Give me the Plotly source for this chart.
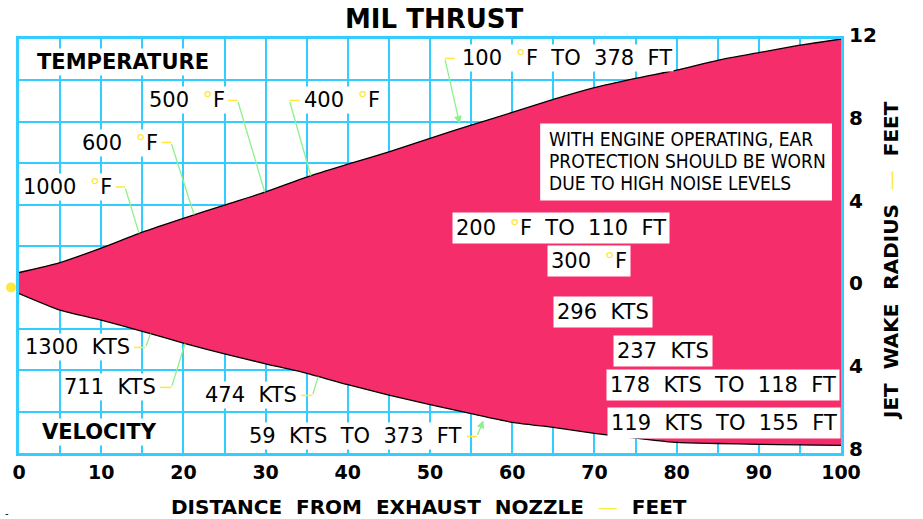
import numpy as np
import plotly.graph_objects as go

# Jet wake envelope (feet) versus distance from the exhaust nozzle (feet)
distance = [0, 5, 10, 15, 20, 25, 30, 35, 40, 45, 50, 55, 60, 65, 70, 75, 80, 85, 90, 95, 100]
wake_upper = [0.72, 1.2, 1.9, 2.67, 3.34, 3.98, 4.61, 5.33, 5.95, 6.55, 7.2, 7.84, 8.45, 9.08,
              9.65, 10.1, 10.5, 10.97, 11.34, 11.7, 12.0]
wake_lower = [-0.3, -1.1, -1.58, -2.12, -2.69, -3.21, -3.69, -4.15, -4.7, -5.2, -5.66, -6.1,
              -6.52, -6.76, -7.05, -7.28, -7.49, -7.54, -7.58, -7.61, -7.63]

# Temperature contours meeting the upper wake edge
temp_values = ["1000", "600", "500", "400"]
temp_distance = [14.6, 21.3, 29.9, 35.5]
# Velocity contours meeting the lower wake edge
velocity_values = ["1300", "711", "474"]
velocity_distance = [16.0, 20.2, 36.4]

# Outer limits of the wake
temp_limit = ("100", "378", 53.6)
velocity_limit = ("59", "373", 56.5)

# Values inside the wake
inner_labels = [("200", "°F", "110"), ("300", "°F", None), ("296", "KTS", None),
                ("237", "KTS", None), ("178", "KTS", "118"), ("119", "KTS", "155")]

warning_lines = ["WITH ENGINE OPERATING, EAR", "PROTECTION SHOULD BE WORN",
                 "DUE TO HIGH NOISE LEVELS"]

x_ticks = [0, 10, 20, 30, 40, 50, 60, 70, 80, 90, 100]
y_ticks = [12, 8, 4, 0, -4, -8]
y_tick_text = ["12", "8", "4", "0", "4", "8"]
y_range = [-8, 12]

PINK = "#F62D6B"
CYAN = "#33CDFF"
YELLOW = "#FFE83A"
GREEN = "#8EF08A"
FONT = "DejaVu Sans"
CONDENSED = "DejaVu Sans Condensed, DejaVu Sans, sans-serif"
SP = "\u00a0\u00a0"
DEG = f'<span style="color:{YELLOW}">°</span>'
DASH = f'<span style="color:{YELLOW};font-weight:normal">—</span>'


def upper_at(d):
    return float(np.interp(d, distance, wake_upper))


def lower_at(d):
    return float(np.interp(d, distance, wake_lower))


fig = go.Figure()
fig.add_trace(go.Scatter(x=distance, y=wake_lower, mode="lines",
                         line=dict(color="black", width=1.3, shape="spline", smoothing=0.6),
                         hoverinfo="skip", showlegend=False))
fig.add_trace(go.Scatter(x=distance, y=wake_upper, mode="lines", fill="tonexty",
                         fillcolor=PINK,
                         line=dict(color="black", width=1.3, shape="spline", smoothing=0.6),
                         hoverinfo="skip", showlegend=False))

annotations = []
shapes = []

# nozzle marker just left of the plot frame, on the wake centreline
shapes.append(dict(type="circle", xref="paper", yref="paper",
                   xsizemode="pixel", ysizemode="pixel",
                   xanchor=-0.0097, yanchor=(0 - y_range[0]) / (y_range[1] - y_range[0]),
                   x0=-5, x1=5, y0=-5, y1=5,
                   fillcolor=YELLOW, line=dict(width=0)))

label_font = dict(family=FONT, size=21, color="black")


def text_label(text, x, y, xanchor, pad=1):
    annotations.append(dict(x=x, y=y, xref="x", yref="y", text=text, showarrow=False,
                            xanchor=xanchor, yanchor="middle", font=label_font,
                            bgcolor="white", borderpad=pad))


def leader(x0, x1, y, tip_x, tip_y, from_left=False, head=False):
    # short yellow tick next to the label, then green line to the wake edge
    shapes.append(dict(type="line", xref="x", yref="y", x0=x0, x1=x1, y0=y, y1=y,
                       line=dict(color=YELLOW, width=1.5)))
    sx = x0 if from_left else x1
    annotations.append(dict(x=tip_x, y=tip_y, ax=sx, ay=y, xref="x", yref="y",
                            axref="x", ayref="y", text="", showarrow=True,
                            arrowhead=2 if head else 0, arrowsize=1.2,
                            arrowwidth=1.3, arrowcolor=GREEN, standoff=0))


# temperature labels along the upper edge: (label right edge, label height)
temp_pos = [(11.6, 4.85), (17.2, 7.0), (25.3, 9.03)]
for (val, d, (lx, ly)) in zip(temp_values[:3], temp_distance[:3], temp_pos):
    text_label(f"{val}{SP}{DEG}F", lx, ly, "right")
    leader(lx + 0.15, lx + 1.3, ly, d, upper_at(d))
# 400 F has its leader on the left
text_label(f"{temp_values[3]}{SP}{DEG}F", 34.4, 9.03, "left")
leader(32.9, 34.1, 9.03, temp_distance[3], upper_at(temp_distance[3]), from_left=True)

# outer temperature limit
t_val, t_ft, t_d = temp_limit
text_label(f"{t_val}{SP}{DEG}F{SP}TO{SP}{t_ft}{SP}FT", 53.6, 11.06, "left")
leader(51.8, 53.0, 11.06, t_d, upper_at(t_d) + 0.25, from_left=True, head=True)

# velocity labels along the lower edge
vel_pos = [(13.8, -2.9), (16.95, -4.83), (34.1, -5.22)]
for (val, d, (lx, ly)) in zip(velocity_values, velocity_distance, vel_pos):
    text_label(f"{val}{SP}KTS", lx, ly, "right")
    leader(lx + 0.2, lx + 1.6, ly, d, lower_at(d))

v_val, v_ft, v_d = velocity_limit
text_label(f"{v_val}{SP}KTS{SP}TO{SP}{v_ft}{SP}FT", 54.1, -7.2, "right")
leader(54.5, 55.7, -7.2, v_d, lower_at(v_d) - 0.2, head=True)

# labels inside the wake
inner_pos = [(65.9, 2.85), (69.4, 1.26), (71.1, -1.21), (78.3, -3.09), (85.65, -4.73),
             (85.77, -6.57)]
for (val, unit, ft), (cx, cy) in zip(inner_labels, inner_pos):
    u = f"{DEG}F" if unit == "°F" else unit
    txt = f"{val}{SP}{u}"
    if ft:
        txt += f"{SP}TO{SP}{ft}{SP}FT"
    text_label(txt, cx, cy, "center", pad=3)

# noise warning: white panel with three lines of condensed text
shapes.append(dict(type="rect", xref="x", yref="y", x0=63.4, x1=98.9, y0=4.2, y1=7.92,
                   fillcolor="white", line=dict(width=0), layer="above"))
for line, ly in zip(warning_lines, [7.15, 6.09, 5.02]):
    annotations.append(dict(x=64.2, y=ly, xref="x", yref="y", text=line,
                            showarrow=False, xanchor="left", yanchor="middle",
                            font=dict(family=CONDENSED, size=19, color="black")))

# section headings
head_font = dict(family=FONT, size=21, color="black")
annotations.append(dict(x=12.6, y=10.9, xref="x", yref="y", text="<b>TEMPERATURE</b>",
                        showarrow=False, font=head_font, bgcolor="white", borderpad=1))
annotations.append(dict(x=9.75, y=-7.0, xref="x", yref="y", text="<b>VELOCITY</b>",
                        showarrow=False, font=head_font, bgcolor="white", borderpad=1))

# title and axis titles
axis_title_font = dict(family=FONT, size=20, color="black")
annotations.append(dict(x=0.505, y=1.048, xref="paper", yref="paper",
                        xanchor="center", yanchor="middle",
                        text="<b>MIL THRUST</b>", showarrow=False,
                        font=dict(family=FONT, size=26, color="black")))
annotations.append(dict(x=0.499, y=-0.130, xref="paper", yref="paper",
                        xanchor="center", yanchor="middle",
                        text=f"<b>DISTANCE{SP}FROM{SP}EXHAUST{SP}NOZZLE{SP}{DASH}{SP}FEET</b>",
                        showarrow=False, font=axis_title_font))
annotations.append(dict(x=1.061, y=0.464, xref="paper", yref="paper", textangle=-90,
                        xanchor="center", yanchor="middle",
                        text=f"<b>JET{SP}WAKE{SP}RADIUS{SP}{DASH}{SP}FEET</b>",
                        showarrow=False, font=axis_title_font))
annotations.append(dict(x=-0.0145, y=-0.147, xref="paper", yref="paper", text="-",
                        xanchor="center", yanchor="middle",
                        showarrow=False, font=dict(family=FONT, size=10, color="black")))

fig.update_layout(
    width=923, height=519,
    margin=dict(l=15, r=82, t=39, b=66),
    paper_bgcolor="white", plot_bgcolor="white",
    showlegend=False,
    annotations=annotations, shapes=shapes,
    xaxis=dict(range=[0, 100], tickvals=x_ticks, showgrid=True, gridcolor=CYAN, gridwidth=2,
               minor=dict(dtick=5, showgrid=True, gridcolor=CYAN, gridwidth=2),
               showline=True, linecolor=CYAN, linewidth=3, mirror=True, ticks="",
               zeroline=False, ticklabelstandoff=0,
               tickfont=dict(family=FONT, size=19, color="black", weight="bold")),
    yaxis=dict(range=y_range, side="right", tickvals=y_ticks, ticktext=y_tick_text,
               showgrid=True, gridcolor=CYAN, gridwidth=2,
               minor=dict(dtick=2, showgrid=True, gridcolor=CYAN, gridwidth=2),
               showline=True, linecolor=CYAN, linewidth=3, mirror=True, ticks="",
               zeroline=False, ticklabelstandoff=1, ticklabelshift=-4,
               tickfont=dict(family=FONT, size=20, color="black", weight="bold")),
)

fig.write_html("out.html")
